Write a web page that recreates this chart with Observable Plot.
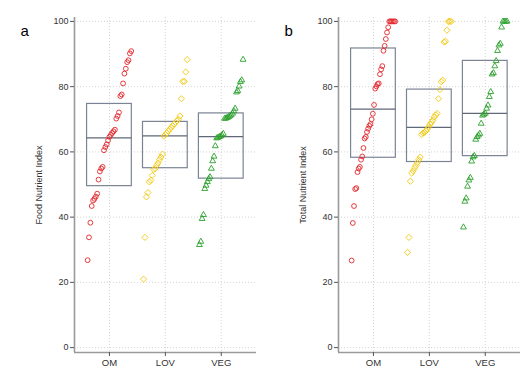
<!DOCTYPE html>
<html>
<head>
<meta charset="utf-8">
<script src="https://cdn.jsdelivr.net/npm/d3@7"></script>
<script src="https://cdn.jsdelivr.net/npm/@observablehq/plot@0.6"></script>
<style>
  html, body { margin: 0; padding: 0; background: #fff; }
  #wrap { display: flex; flex-direction: row; width: 528px; height: 384px; }
  #wrap > svg, #wrap > figure { margin: 0; }
</style>
</head>
<body>
<div id="wrap"></div>
<script>
// ---- data ----
const groups = ["OM", "LOV", "VEG"];
const groupColors = ["#e3262b", "#f2c80f", "#2aa02b"];
const groupSymbols = ["circle", "diamond2", "triangle2"];
const yTicks = [0, 20, 40, 60, 80, 100];

// Panel a: Food Nutrient Index (sorted values)
const foodOM = [26.8, 33.8, 38.3, 43.4, 45.1, 45.6, 46.3, 47.2, 51.5, 54.0, 54.9, 55.4, 60.5, 61.5, 62.3, 63.5, 64.6, 65.2, 65.8, 66.3, 66.8, 70.2, 71.0, 72.1, 77.1, 77.6, 81.0, 84.0, 85.5, 87.5, 88.1, 90.2, 90.9];
const foodLOV = [21.0, 33.8, 46.2, 47.5, 50.8, 51.3, 52.8, 54.6, 54.9, 55.9, 56.6, 57.6, 58.4, 59.3, 64.8, 65.3, 65.8, 66.4, 66.9, 67.5, 68.0, 68.5, 69.0, 69.5, 70.0, 71.0, 76.3, 81.6, 81.6, 84.5, 88.3];
const foodVEG = [31.5, 32.5, 39.5, 40.7, 48.7, 49.7, 50.8, 51.7, 52.3, 54.9, 57.2, 58.6, 61.8, 64.2, 64.4, 64.6, 64.8, 65.1, 65.6, 70.2, 70.3, 70.5, 70.7, 71.0, 71.3, 71.8, 72.5, 73.3, 78.3, 78.7, 80.1, 81.5, 82.0, 88.3];
const foodLow = [49.5, 55.0, 51.8];
const foodMid = [64.3, 64.9, 64.7];
const foodHigh = [74.7, 69.2, 71.8];

// Panel b: Total Nutrient Index (sorted values)
const totalOM = [26.7, 38.2, 43.4, 48.6, 48.9, 53.8, 54.9, 55.4, 57.6, 58.6, 61.2, 64.1, 64.6, 66.1, 67.1, 68.0, 68.5, 70.0, 71.7, 74.4, 79.4, 80.1, 80.8, 81.0, 83.8, 85.3, 86.3, 91.0, 92.5, 94.6, 96.6, 98.2, 100, 100, 100, 100, 100, 100];
const totalLOV = [29.2, 33.8, 51.0, 53.5, 54.2, 55.1, 55.8, 56.7, 57.6, 58.4, 65.3, 65.8, 66.0, 66.4, 67.0, 67.7, 68.5, 69.1, 69.7, 70.7, 71.3, 71.8, 76.3, 79.1, 81.5, 82.0, 93.7, 93.9, 97.3, 100, 100, 100];
const totalVEG = [36.9, 44.8, 45.8, 49.4, 51.3, 52.1, 57.1, 58.4, 58.8, 63.8, 64.6, 65.1, 65.6, 68.7, 71.2, 71.5, 71.8, 73.3, 74.3, 76.9, 78.4, 83.8, 84.2, 86.3, 87.9, 91.0, 92.7, 93.2, 98.2, 100, 100, 100, 100];
const totalLow = [58.2, 56.9, 58.7];
const totalMid = [73.1, 67.5, 71.8];
const totalHigh = [91.7, 79.1, 87.9];

// ---- build ----
const HALF = 0.4;      // half-width of each box (x units)
const SPREAD = 0.39;   // half-width of the rank-ordered point strip

function pointsFor(seriesList) {
  const out = [];
  seriesList.forEach((vals, g) => {
    const n = vals.length;
    vals.forEach((v, i) => {
      out.push({ g, group: groups[g], value: v, pos: (g + 1) - SPREAD + (2 * SPREAD) * (i / (n - 1)) });
    });
  });
  return out;
}
function boxesFor(low, mid, high) {
  return groups.map((name, g) => ({ g, group: name, low: low[g], mid: mid[g], high: high[g], x1: g + 1 - HALF, x2: g + 1 + HALF }));
}

function panel(letter, yLabel, series, low, mid, high) {
  const pts = pointsFor(series);
  const boxes = boxesFor(low, mid, high);
  const xDom = [0.375, 3.63];
  const yDom = [-1.5, 101.2];
  const marks = [
    Plot.gridY(yTicks, { stroke: "#d4d4d4", strokeOpacity: 1, strokeDasharray: "1,2" }),
    Plot.gridX([1, 2, 3], { stroke: "#d4d4d4", strokeOpacity: 1, strokeDasharray: "1,2" }),
    Plot.rect(boxes, { x1: "x1", x2: "x2", y1: "low", y2: "high", fill: "none", stroke: "#7b8494", strokeWidth: 1.2 }),
    Plot.ruleY(boxes, { y: "mid", x1: "x1", x2: "x2", stroke: "#5f6877", strokeWidth: 1.2 }),
    Plot.dot(pts.filter(d => d.g === 0), { x: "pos", y: "value", symbol: groupSymbols[0], stroke: groupColors[0], r: 2.4, strokeWidth: 0.9 }),
    Plot.dot(pts.filter(d => d.g === 1), { x: "pos", y: "value", symbol: groupSymbols[1], stroke: groupColors[1], r: 2.8, strokeWidth: 0.9 }),
    Plot.dot(pts.filter(d => d.g === 2), { x: "pos", y: "value", symbol: groupSymbols[2], stroke: groupColors[2], r: 2.8, strokeWidth: 0.9 }),
    Plot.ruleX([xDom[0]], { stroke: "#9a9a9a", strokeWidth: 1.6 }),
    Plot.ruleY([yDom[0]], { stroke: "#9a9a9a", strokeWidth: 1.6 }),
    Plot.axisY({ ticks: yTicks, tickSize: 4, tickPadding: 2, fontSize: 9, label: yLabel, labelAnchor: "center", labelArrow: "none", labelOffset: 39, stroke: "#555" }),
    Plot.axisX({ ticks: [1, 2, 3], tickFormat: d => groups[d - 1], tickSize: 4, tickPadding: 3, fontSize: 9.5, label: null, stroke: "#555" }),
    Plot.text([letter], { frameAnchor: "top-left", dx: -54, dy: 8, fontSize: 15, fill: "#000", text: d => d, textAnchor: "start" })
  ];
  return Plot.plot({
    width: 264,
    height: 384,
    marginLeft: 74,
    marginRight: 8,
    marginTop: 17,
    marginBottom: 32,
    style: { fontFamily: "Liberation Sans, Arial, sans-serif", color: "#333", background: "#fff", overflow: "visible" },
    x: { type: "linear", domain: xDom },
    y: { type: "linear", domain: yDom },
    marks
  });
}

const wrap = document.getElementById("wrap");
wrap.appendChild(panel("a", "Food Nutrient Index", [foodOM, foodLOV, foodVEG], foodLow, foodMid, foodHigh));
wrap.appendChild(panel("b", "Total Nutrient Index", [totalOM, totalLOV, totalVEG], totalLow, totalMid, totalHigh));
</script>
</body>
</html>
